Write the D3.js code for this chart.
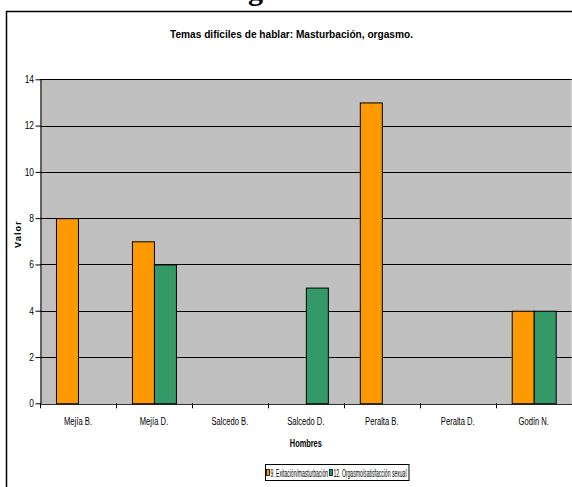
<!DOCTYPE html>
<html><head><meta charset="utf-8">
<script src="https://cdn.jsdelivr.net/npm/d3@7/dist/d3.min.js"></script>
<style>
body{margin:0;background:#fff;}
svg{display:block;}
.narrow{font-family:"Liberation Sans",Arial,sans-serif;}
</style>
</head><body>
<svg id="c" width="572" height="487"></svg>
<script>
const categories = ["Mejía B.","Mejía D.","Salcedo B.","Salcedo D.","Peralta B.","Peralta D.","Godín N."];
const seriesNames = ["9. Exitación/masturbación","12. Orgasmo/satisfacción sexual"];
const exitacion = [8,7,0,0,13,0,4];
const orgasmo = [0,6,0,5,0,0,4];
const yTicks = [0,2,4,6,8,10,12,14];
const colors = ["#FF9900","#339966"];

const svg = d3.select("#c");
const W = 572, H = 487;
const x = d3.scaleBand().domain(categories).range([40,571.7]);
const y = d3.scaleLinear().domain([0,14]).range([403.3,79.3]);
const inner = d3.scaleBand().domain([0,1]).range([0,44]);

function condense(sel, factor){
  sel.each(function(){
    const w = this.getComputedTextLength();
    d3.select(this).attr("textLength", w*factor).attr("lengthAdjust","spacingAndGlyphs");
  });
}

// clipped page heading above the frame
svg.append("text").attr("x",352).attr("y",0).attr("text-anchor","middle")
  .attr("font-family","'Liberation Serif','Times New Roman',serif").attr("font-weight","bold")
  .attr("font-size",30).text("Orgasmo en Hombres");

// outer frame
svg.append("rect").attr("x",6.5).attr("y",11.5).attr("width",W+10).attr("height",H)
  .attr("fill","#fff").attr("stroke","#000").attr("stroke-width",1.5);

// title
svg.append("text").attr("class","narrow").attr("x",291.5).attr("y",38).attr("text-anchor","middle")
  .attr("font-weight","bold").attr("font-size",11.5).attr("textLength",243).attr("lengthAdjust","spacingAndGlyphs")
  .text("Temas difíciles de hablar: Masturbación, orgasmo.");

// plot background
svg.append("rect").attr("x",40).attr("y",y(14)).attr("width",531.7).attr("height",y(0)-y(14)).attr("fill","#C0C0C0");

// gridlines
svg.append("g").selectAll("line").data(yTicks.filter(d=>d>0)).join("line")
  .attr("x1",40).attr("x2",571.7).attr("y1",d=>Math.round(y(d))+0.5).attr("y2",d=>Math.round(y(d))+0.5)
  .attr("stroke","#000").attr("stroke-width",1);

// bars
const data = [];
categories.forEach((c,i)=>{
  [exitacion[i],orgasmo[i]].forEach((v,s)=>{ if(v>0) data.push({c,s,v}); });
});
const groupOffset = (x.bandwidth()-44)/2;
svg.append("g").selectAll("rect").data(data).join("rect")
  .attr("x",d=>x(d.c)+groupOffset+inner(d.s)+0.5)
  .attr("y",d=>y(d.v)+0.5)
  .attr("width",inner.bandwidth())
  .attr("height",d=>y(0)-y(d.v))
  .attr("fill",d=>colors[d.s]).attr("stroke","#000").attr("stroke-width",1);

// y axis
const yAxis = svg.append("g").attr("transform","translate(40.5,0)")
  .call(d3.axisLeft(y).tickValues(yTicks).tickSize(5).tickSizeOuter(0).tickPadding(1.5));
yAxis.attr("font-family",null);
yAxis.select(".domain").attr("stroke","#000");
yAxis.selectAll("line").attr("stroke","#000");
yAxis.selectAll("text").attr("class","narrow").attr("font-size",10.5).attr("fill","#000");
condense(yAxis.selectAll("text"),0.8);

// x axis
const xAxis = svg.append("g").attr("transform",`translate(0,${y(0)+0.5})`)
  .call(d3.axisBottom(x).tickSize(0).tickPadding(14));
xAxis.attr("font-family",null);
xAxis.select(".domain").attr("stroke","#000");
xAxis.selectAll("text").attr("class","narrow").attr("font-size",10).attr("fill","#000");
condense(xAxis.selectAll("text"),0.76);
// boundary ticks between categories
const bounds = categories.map(c=>x(c)).concat([x(categories[categories.length-1])+x.bandwidth()]);
svg.append("g").selectAll("line").data(bounds).join("line")
  .attr("x1",d=>Math.round(d)+0.5).attr("x2",d=>Math.round(d)+0.5)
  .attr("y1",y(0)).attr("y2",y(0)+5).attr("stroke","#000");

// axis titles
svg.append("text").attr("class","narrow").attr("x",305.8).attr("y",447).attr("text-anchor","middle")
  .attr("font-weight","bold").attr("font-size",10.5).attr("textLength",32).attr("lengthAdjust","spacingAndGlyphs").text("Hombres");
svg.append("text").attr("transform","translate(21,234) rotate(-90)").attr("text-anchor","middle")
  .attr("font-family","'Liberation Sans',Arial,sans-serif").attr("font-weight","bold")
  .attr("font-size",9).attr("letter-spacing",1.2).text("Valor");

// legend
const lg = svg.append("g");
lg.append("rect").attr("x",265.5).attr("y",464.5).attr("width",143.5).attr("height",16)
  .attr("fill","#fff").attr("stroke","#000");
const sq = [266.5, 329.5];
const tx = [270.5, 333.5];
const tw = [57.5, 73];
seriesNames.forEach((n,i)=>{
  lg.append("rect").attr("x",sq[i]).attr("y",469.5).attr("width",3).attr("height",6)
    .attr("fill",colors[i]).attr("stroke","#000").attr("stroke-width",0.8);
  lg.append("text").attr("class","narrow").attr("x",tx[i]).attr("y",476.5).attr("font-size",10)
    .attr("textLength",tw[i]).attr("lengthAdjust","spacingAndGlyphs").text(n);
});
</script>
</body></html>
